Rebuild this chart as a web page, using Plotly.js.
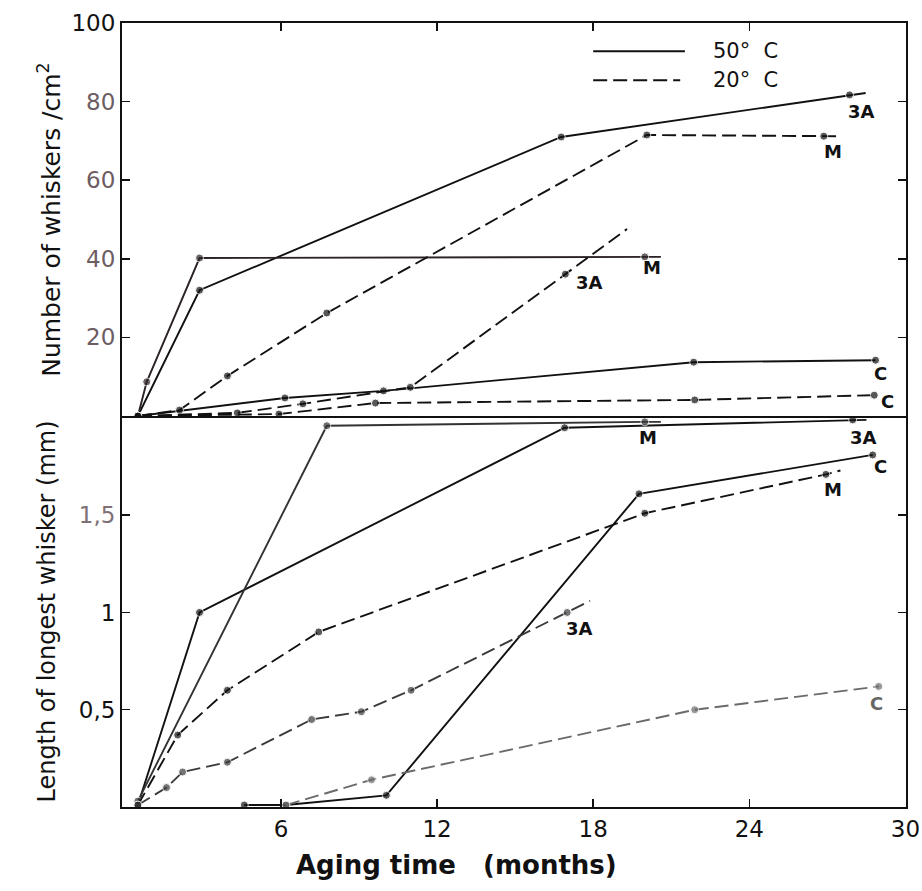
<!DOCTYPE html>
<html>
<head>
<meta charset="utf-8">
<script src="https://cdn.plot.ly/plotly-3.0.1.min.js"></script>
<style>html,body{margin:0;padding:0;background:#fff;}#chart{width:922px;height:891px;}</style>
</head>
<body>
<div id="chart"></div>
<script>
// ---------- DATA ----------
// Upper panel: number of whiskers per cm^2 vs aging time (months)
const cnt50_3A_t = [0.5, 2.87, 16.77, 27.85, 28.47];
const cnt50_3A_v = [0, 32, 71, 81.7, 82.2];
const cnt50_M_t  = [0.5, 0.84, 2.87, 19.98, 20.6];
const cnt50_M_v  = [0, 8.7, 40.2, 40.5, 40.5];
const cnt50_C_t  = [0.5, 6.15, 9.94, 21.86, 28.85];
const cnt50_C_v  = [0, 4.6, 6.4, 13.7, 14.2];
const cnt20_M_t  = [0.5, 2.1, 3.94, 7.76, 20.06, 26.86, 27.4];
const cnt20_M_v  = [0, 1.5, 10.2, 26.2, 71.5, 71.2, 71.2];
const cnt20_3A_t = [0.5, 4.32, 6.84, 10.97, 16.93, 19.3];
const cnt20_3A_v = [0, 0.8, 3.1, 7.3, 36.1, 47.6];
const cnt20_C_t  = [0.5, 5.92, 9.63, 21.9, 28.8];
const cnt20_C_v  = [0, 0.5, 3.3, 4.1, 5.3];

// Lower panel: length of longest whisker (mm) vs aging time (months)
const len50_3A_t = [0.5, 2.87, 16.9, 27.97, 28.5];
const len50_3A_v = [0.01, 1.0, 1.95, 1.99, 1.99];
const len50_M_t  = [0.5, 7.76, 19.98, 20.6];
const len50_M_v  = [0.03, 1.96, 1.98, 1.98];
const len50_C_t  = [4.59, 6.19, 10.05, 19.76, 28.74];
const len50_C_v  = [0.01, 0.01, 0.06, 1.61, 1.81];
const len20_M_t  = [0.5, 2.03, 3.94, 7.45, 19.98, 26.94, 27.5];
const len20_M_v  = [0.01, 0.37, 0.6, 0.9, 1.51, 1.71, 1.73];
const len20_3A_t = [0.5, 1.6, 2.22, 3.94, 7.18, 9.09, 11.0, 17.0, 17.88];
const len20_3A_v = [0.01, 0.1, 0.18, 0.23, 0.45, 0.49, 0.6, 1.0, 1.06];
const len20_C_t  = [6.19, 9.48, 21.9, 28.97];
const len20_C_v  = [0.01, 0.14, 0.5, 0.62];

// Tick labels
const xTickVals = [6, 12, 18, 24, 30];
const xTickText = ['6', '12', '18', '24', '30'];
const cntTickVals = [20, 40, 60, 80, 100];
const cntTickText = ['20', '40', '60', '80', '<span style="color:#111">100</span>'];
const lenTickVals = [0.5, 1, 1.5];
const lenTickText = ['0,5', '1', '<span style="color:#7d7076">1,5</span>'];

// Series labels (alloy codes) with the point they sit next to
const labelText  = ['3A', 'M', 'M', '3A', 'C', 'C', 'M', '3A', 'C', 'M', '3A', 'C'];
const labelPanel = ['cnt','cnt','cnt','cnt','cnt','cnt','len','len','len','len','len','len'];
const labelT     = [28.3, 27.2, 20.25, 17.85, 29.04, 29.3, 20.1, 28.4, 29.04, 27.2, 17.46, 28.9];
const labelV     = [77.4, 67.2, 37.7, 34.1, 10.9, 3.6, 1.90, 1.90, 1.75, 1.63, 0.92, 0.53];

// ---------- TRACES ----------
const series = [
  {t: cnt50_3A_t, v: cnt50_3A_v, panel: 'cnt', dash: 'solid', ext: true,  color: '#111'},
  {t: cnt50_M_t,  v: cnt50_M_v,  panel: 'cnt', dash: 'solid', ext: true,  color: '#2a2226'},
  {t: cnt50_C_t,  v: cnt50_C_v,  panel: 'cnt', dash: 'solid', ext: false, color: '#111'},
  {t: cnt20_M_t,  v: cnt20_M_v,  panel: 'cnt', dash: 'dash',  ext: true,  color: '#111'},
  {t: cnt20_3A_t, v: cnt20_3A_v, panel: 'cnt', dash: 'dash',  ext: true,  color: '#111'},
  {t: cnt20_C_t,  v: cnt20_C_v,  panel: 'cnt', dash: 'dash',  ext: false, color: '#111'},
  {t: len50_3A_t, v: len50_3A_v, panel: 'len', dash: 'solid', ext: true,  color: '#111'},
  {t: len50_M_t,  v: len50_M_v,  panel: 'len', dash: 'solid', ext: true,  color: '#333'},
  {t: len50_C_t,  v: len50_C_v,  panel: 'len', dash: 'solid', ext: false, color: '#111'},
  {t: len20_M_t,  v: len20_M_v,  panel: 'len', dash: 'dash',  ext: true,  color: '#111'},
  {t: len20_3A_t, v: len20_3A_v, panel: 'len', dash: 'dash',  ext: true,  color: '#3a3a3a'},
  {t: len20_C_t,  v: len20_C_v,  panel: 'len', dash: 'dash',  ext: false, color: '#6a6a6a'}
];

const traces = series.map(s => {
  const sizes = s.t.map((_, i) => (s.ext && i === s.t.length - 1) ? 0 : 8);
  return {
    type: 'scatter', mode: 'lines+markers',
    x: s.t, y: s.v,
    xaxis: s.panel === 'cnt' ? 'x2' : 'x',
    yaxis: s.panel === 'cnt' ? 'y2' : 'y',
    line: {color: s.color, width: 1.9, dash: s.dash === 'dash' ? '14px,6px' : 'solid'},
    marker: {color: s.color, size: sizes},
    hoverinfo: 'x+y', showlegend: false
  };
});

const annotations = labelText.map((txt, i) => ({
  text: txt,
  x: labelT[i], y: labelV[i],
  xref: labelPanel[i] === 'cnt' ? 'x2' : 'x',
  yref: labelPanel[i] === 'cnt' ? 'y2' : 'y',
  showarrow: false,
  font: {family: 'DejaVu Sans', size: 18, weight: 600, color: (i === 11 ? '#666' : '#111')}
}));

// Legend text
annotations.push(
  {text: '50°\u00a0 C', xref: 'paper', yref: 'paper', x: 0.751, y: 0.964, xanchor: 'left', yanchor: 'middle',
   showarrow: false, font: {family: 'DejaVu Sans', size: 21, color: '#111'}},
  {text: '20°\u00a0 C', xref: 'paper', yref: 'paper', x: 0.751, y: 0.927, xanchor: 'left', yanchor: 'middle',
   showarrow: false, font: {family: 'DejaVu Sans', size: 21, color: '#111'}},
  {text: 'Aging time\u00a0\u00a0\u00a0(months)', xref: 'paper', yref: 'paper', x: 0.427, y: -0.052,
   xanchor: 'center', yanchor: 'top', showarrow: false,
   font: {family: 'DejaVu Sans', size: 26, weight: 600, color: '#111'}}
);

const shapes = [
  {type: 'line', xref: 'paper', yref: 'paper', x0: 0.601, x1: 0.718, y0: 0.964, y1: 0.964,
   line: {color: '#111', width: 1.9}},
  {type: 'line', xref: 'paper', yref: 'paper', x0: 0.601, x1: 0.712, y0: 0.927, y1: 0.927,
   line: {color: '#111', width: 1.9, dash: '14px,6px'}}
];

const axLine = {showline: true, linecolor: '#111', linewidth: 2, showgrid: false, zeroline: false};
const split = 0.4987;

const layout = {
  width: 922, height: 891,
  margin: {l: 122, r: 16, t: 23, b: 84},
  paper_bgcolor: '#fff', plot_bgcolor: '#fff',
  showlegend: false,
  font: {family: 'DejaVu Sans', color: '#111'},
  xaxis: Object.assign({}, axLine, {
    domain: [0, 1], range: [-0.11, 30.02], anchor: 'y',
    tickmode: 'array', tickvals: xTickVals, ticktext: xTickText,
    ticks: 'inside', ticklen: 8, tickwidth: 1.5, tickcolor: '#111',
    ticklabeloverflow: 'allow',
    tickfont: {size: 23, color: '#111'}, mirror: false
  }),
  xaxis2: Object.assign({}, axLine, {
    domain: [0, 1], range: [-0.11, 30.02], anchor: 'y2', side: 'top', matches: 'x',
    tickmode: 'array', tickvals: [6, 12, 18, 24],
    ticks: 'inside', ticklen: 8, tickwidth: 1.5, tickcolor: '#111',
    showticklabels: false, mirror: true
  }),
  yaxis: Object.assign({}, axLine, {
    domain: [0, split], range: [0, 2.01], anchor: 'x',
    tickmode: 'array', tickvals: lenTickVals, ticktext: lenTickText,
    ticks: 'inside', ticklen: 8, tickwidth: 1.5, tickcolor: '#111',
    tickfont: {size: 23, color: '#111'}, mirror: 'ticks',
    title: {text: 'Length of longest whisker (mm)', font: {size: 24, color: '#111'}, standoff: 16}
  }),
  yaxis2: Object.assign({}, axLine, {
    domain: [split, 1], range: [0, 100], anchor: 'x2',
    tickmode: 'array', tickvals: cntTickVals, ticktext: cntTickText,
    ticks: 'inside', ticklen: 8, tickwidth: 1.5, tickcolor: '#111',
    tickfont: {size: 23, color: '#6e5c63'}, mirror: 'ticks',
    title: {text: 'Number of whiskers /cm<sup>2</sup>', font: {size: 25, color: '#111'}, standoff: 4}
  }),
  annotations: annotations,
  shapes: shapes
};

Plotly.newPlot('chart', traces, layout, {displayModeBar: false, staticPlot: true});
</script>
</body>
</html>
